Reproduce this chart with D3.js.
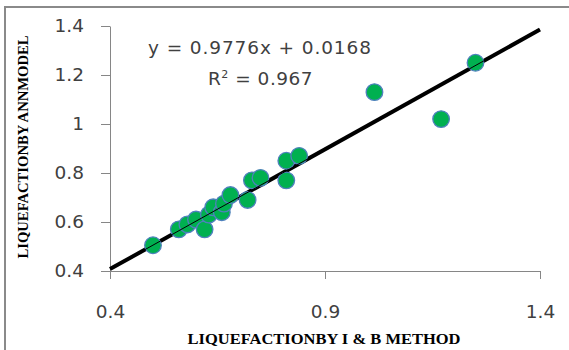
<!DOCTYPE html>
<html>
<head>
<meta charset="utf-8">
<script src="https://cdn.jsdelivr.net/npm/d3@7"></script>
<style>
    body { margin: 0; background: #fff; }
    svg { display: block; }
    .tick text { font-family: "DejaVu Sans", sans-serif; fill: #404040; }
</style>
</head>
<body>
<div id="chart"></div>
<script>
// liquefaction values
const ibMethod = [0.50, 0.56, 0.58, 0.60, 0.62, 0.63, 0.64, 0.66, 0.665, 0.68, 0.72, 0.73, 0.75, 0.81, 0.81, 0.84, 1.015, 1.17, 1.25]
const annModel = [0.505, 0.57, 0.59, 0.61, 0.57, 0.63, 0.66, 0.64, 0.675, 0.71, 0.69, 0.77, 0.78, 0.77, 0.85, 0.87, 1.13, 1.02, 1.25]
const xTicks = [0.4, 0.9, 1.4]
const yTicks = [0.4, 0.6, 0.8, 1, 1.2, 1.4]
const trend = { slope: 0.9776, intercept: 0.0168 }
const equationLabel = "y = 0.9776x + 0.0168"
const r2Label = "0.967"

const width = 569
const height = 350

const svg = d3.select("#chart").append("svg")
    .attr("width", width)
    .attr("height", height)

// outer chart frame
svg.append("rect")
    .attr("x", 5)
    .attr("y", 7)
    .attr("width", width)
    .attr("height", height)
    .attr("fill", "none")
    .attr("stroke", "#8a8a8a")
    .attr("stroke-width", 2)

const xScale = d3.scaleLinear()
    .domain([0.4, 1.4])
    .range([110, 540])
const yScale = d3.scaleLinear()
    .domain([0.4, 1.4])
    .range([271, 26])

const fmt = d => d3.format("")(+d.toFixed(1))

const yAxis = svg.append("g")
    .attr("transform", "translate(" + xScale(0.4) + ",0)")
    .call(d3.axisLeft(yScale)
        .tickValues(yTicks)
        .tickFormat(fmt)
        .tickSize(9)
        .tickSizeOuter(0)
        .tickPadding(17))
yAxis.selectAll("text").style("font-size", "18.5px")

const xAxis = svg.append("g")
    .attr("transform", "translate(0," + yScale(0.4) + ")")
    .call(d3.axisBottom(xScale)
        .tickValues(xTicks)
        .tickFormat(fmt)
        .tickSize(8)
        .tickPadding(26))
xAxis.selectAll("text").style("font-size", "18.5px")

svg.selectAll(".domain, .tick line")
    .attr("stroke", "#868686")

// axis titles
svg.append("text")
    .attr("x", (xScale(0.4) + xScale(1.4)) / 2 - 1)
    .attr("y", 344)
    .attr("text-anchor", "middle")
    .attr("textLength", 273)
    .attr("lengthAdjust", "spacingAndGlyphs")
    .style("font-family", "'Liberation Serif', serif")
    .style("font-weight", "bold")
    .style("font-size", "15.5px")
    .text("LIQUEFACTIONBY I & B METHOD")

svg.append("text")
    .attr("transform", "translate(28,147) rotate(-90)")
    .attr("text-anchor", "middle")
    .attr("textLength", 223)
    .attr("lengthAdjust", "spacingAndGlyphs")
    .style("font-family", "'Liberation Serif', serif")
    .style("font-weight", "bold")
    .style("font-size", "15.5px")
    .text("LIQUEFACTIONBY ANNMODEL")

// trendline
const trendY = x => trend.slope * x + trend.intercept
const line = d3.line()
    .x(d => xScale(d))
    .y(d => yScale(trendY(d)))

svg.append("path")
    .datum(xScale.domain())
    .attr("d", line)
    .attr("fill", "none")
    .attr("stroke", "#000")
    .attr("stroke-width", 4)

svg.append("g")
    .selectAll("circle")
    .data(ibMethod.map((x, i) => ({ x: x, y: annModel[i] })))
    .enter()
    .append("circle")
    .attr("cx", d => xScale(d.x))
    .attr("cy", d => yScale(d.y))
    .attr("r", 8.3)
    .attr("fill", "#00b050")
    .attr("stroke", "#4f81bd")
    .attr("stroke-width", 1.3)

// thin line drawn again over the markers
svg.append("path")
    .datum(xScale.domain())
    .attr("d", line)
    .attr("fill", "none")
    .attr("stroke", "#000")
    .attr("stroke-width", 1)

const labelGroup = svg.append("g")
    .style("font-family", "'DejaVu Sans', sans-serif")
    .style("font-size", "18.5px")
    .style("fill", "#404040")

labelGroup.append("text")
    .attr("x", 148)
    .attr("y", 54)
    .style("letter-spacing", "0.9px")
    .text(equationLabel)

const r2 = labelGroup.append("text")
    .attr("x", 208)
    .attr("y", 85)
    .style("letter-spacing", "0.5px")
r2.append("tspan").text("R")
r2.append("tspan")
    .attr("dy", -7)
    .style("font-size", "11px")
    .text("2")
r2.append("tspan")
    .attr("dy", 7)
    .text(" = " + r2Label)
</script>
</body>
</html>
